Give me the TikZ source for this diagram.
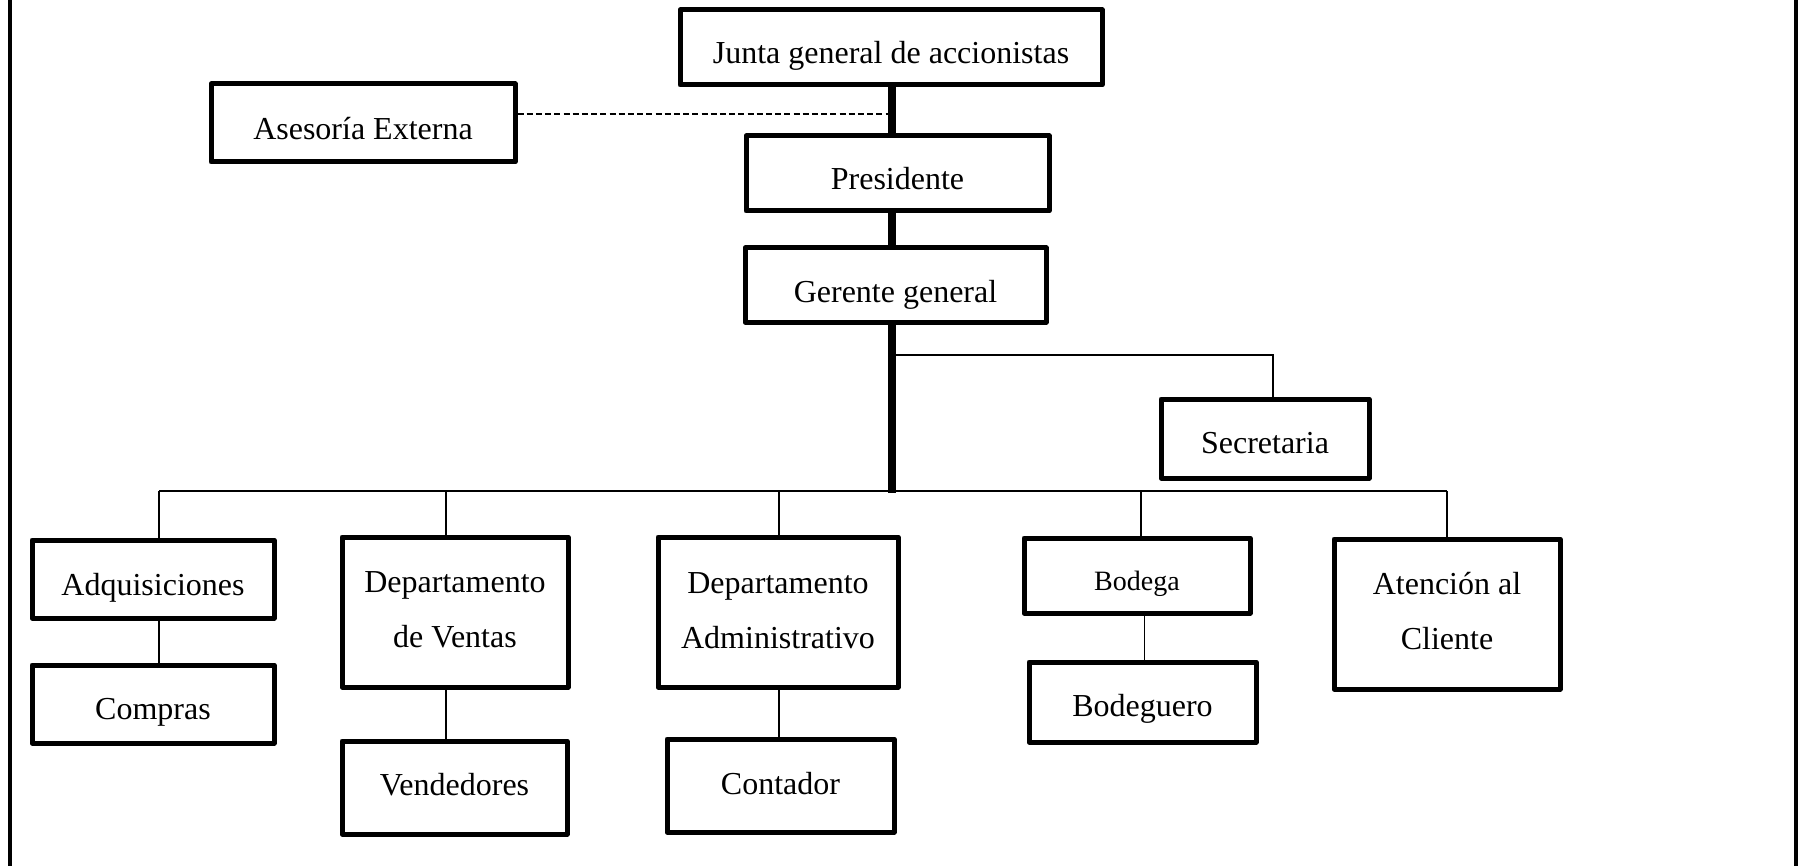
\documentclass[tikz,border=0pt]{standalone}
\usepackage{fontspec}
\setmainfont{Liberation Serif}
\usetikzlibrary{backgrounds}

\begin{document}
\begin{tikzpicture}[x=0.5pt,y=-0.5pt,
  box/.style={draw=black, line width=2.5pt, fill=white, rectangle, inner sep=0pt, line join=round},
  txt/.style={font=\fontsize{16}{27.5}\selectfont, inner sep=0pt, align=center},
  txtsmall/.style={font=\fontsize{14}{17}\selectfont, inner sep=0pt, align=center},
  link/.style={line width=0.85pt},
  spine/.style={line width=4pt},
  advice/.style={line width=0.9pt, dash pattern=on 3pt off 1.6pt},
  frame/.style={line width=1.75pt}]

\useasboundingbox (0,0) rectangle (1798,866);

% side rules of the page
\draw[frame] (10,0) -- (10,866);
\draw[frame] (1796,0) -- (1796,866);

% ---- boxes ----
\node[box, minimum width=211pt,   minimum height=37.5pt] (junta)      at (891,47.5)    {};
\node[box, minimum width=152pt,   minimum height=39pt]   (asesoria)   at (363,123)     {};
\node[box, minimum width=151.5pt, minimum height=37.5pt] (presidente) at (897.5,173.5) {};
\node[box, minimum width=150.5pt, minimum height=37pt]   (gerente)    at (895.5,285)   {};
\node[box, minimum width=104pt,   minimum height=39.5pt] (secretaria) at (1265,438.5)  {};
\node[box, minimum width=121pt,   minimum height=39pt]   (adq)        at (153,579)     {};
\node[box, minimum width=121pt,   minimum height=39pt]   (compras)    at (153,704)     {};
\node[box, minimum width=113pt,   minimum height=75pt]   (ventas)     at (455,612)     {};
\node[box, minimum width=112.5pt, minimum height=46.5pt] (vendedores) at (454.5,787.5) {};
\node[box, minimum width=120pt,   minimum height=75pt]   (admin)      at (778,612)     {};
\node[box, minimum width=113.5pt, minimum height=46.5pt] (contador)   at (780.5,785.5) {};
\node[box, minimum width=113pt,   minimum height=37.5pt] (bodega)     at (1137,575.5)  {};
\node[box, minimum width=113.5pt, minimum height=40pt]   (bodeguero)  at (1142.5,702)  {};
\node[box, minimum width=113pt,   minimum height=75pt]   (atencion)   at (1447,614)    {};

% ---- texts ----
\node[txt, anchor=base] (t-junta)      at (891,64)      {Junta general de accionistas};
\node[txt, anchor=base] (t-asesoria)   at (363,140)     {Asesoría Externa};
\node[txt, anchor=base] (t-presidente) at (897.5,190)   {Presidente};
\node[txt, anchor=base] (t-gerente)    at (895.5,302)   {Gerente general};
\node[txt, anchor=base] (t-secretaria) at (1265,453)    {Secretaria};
\node[txt, anchor=base] (t-adq)        at (153,595)     {Adquisiciones};
\node[txt, anchor=base] (t-compras)    at (153,719)     {Compras};
\node[txt]              (t-ventas)     at (455,609.8)   {Departamento\\de Ventas};
\node[txt, anchor=base] (t-vendedores) at (454.5,795.5) {Vendedores};
\node[txt]              (t-admin)      at (778,610.3)   {Departamento\\Administrativo};
\node[txt, anchor=base] (t-contador)   at (780.5,794)   {Contador};
\node[txtsmall, anchor=base] (t-bodega) at (1137,590)   {Bodega};
\node[txt, anchor=base] (t-bodeguero)  at (1142.5,716.5) {Bodeguero};
\node[txt]              (t-atencion)   at (1447,610.6)  {Atención al\\Cliente};

% ---- junction points ----
\coordinate (hub)   at (892,493);
\coordinate (secj)  at (892,355);
\coordinate (dashj) at (892,114);
\coordinate (bus)   at (0,491);
\coordinate (dsec)  at ([xshift=4pt]secretaria.north);
\coordinate (dadq)  at ([xshift=3pt]adq.north);
\coordinate (dven)  at ([xshift=-4.5pt]ventas.north);
\coordinate (dadm)  at ([xshift=0.5pt]admin.north);
\coordinate (dbod)  at ([xshift=2pt]bodega.north);
\coordinate (dbod2) at ([xshift=3.75pt]bodega.south);
\coordinate (date)  at (atencion.north);

% ---- connectors ----
\begin{scope}[on background layer]
  \draw[spine] (junta.south -| hub) -- (presidente.north -| hub)
               (presidente.south -| hub) -- (gerente.north -| hub)
               (gerente.south -| hub) -- (hub);
  \draw[advice] (asesoria.east |- dashj) -- (dashj);
  \draw[link] (secj) -| (dsec);
  \draw[link] (dadq |- bus) -- (date |- bus);
  \draw[link] (dadq |- bus) -- (dadq);
  \draw[link] (dven |- bus) -- (dven);
  \draw[link] (dadm |- bus) -- (dadm);
  \draw[link] (dbod |- bus) -- (dbod);
  \draw[link] (date |- bus) -- (date);
  \draw[link] (dadq |- adq.south) -- (dadq |- compras.north);
  \draw[link] (dven |- ventas.south) -- (dven |- vendedores.north);
  \draw[link] (dadm |- admin.south) -- (dadm |- contador.north);
  \draw[link] (dbod2) -- (dbod2 |- bodeguero.north);
\end{scope}
\end{tikzpicture}
\end{document}
